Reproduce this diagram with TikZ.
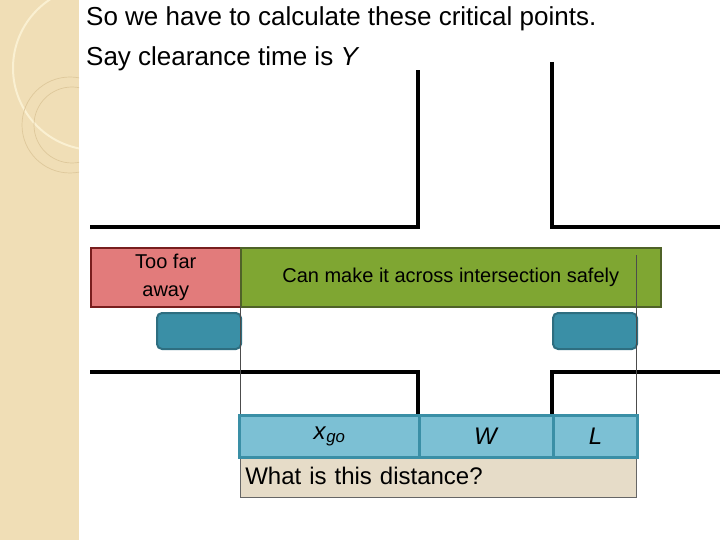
\documentclass[tikz,border=0pt]{standalone}
\usepackage{fontspec}
\setmainfont{Liberation Sans}
\definecolor{strip}{RGB}{240,222,182}
\definecolor{arcA}{RGB}{250,240,210}
\definecolor{arcB}{RGB}{222,200,155}
\definecolor{redf}{RGB}{226,123,123}
\definecolor{redd}{RGB}{120,30,30}
\definecolor{greenf}{RGB}{127,166,50}
\definecolor{greend}{RGB}{79,98,40}
\definecolor{carf}{RGB}{58,143,166}
\definecolor{card}{RGB}{46,110,128}
\definecolor{barf}{RGB}{124,192,212}
\definecolor{beige}{RGB}{230,220,200}
\begin{document}
\begin{tikzpicture}[x=1pt,y=-1pt,
  road/.style={line width=4pt},
  thin/.style={line width=0.6pt,draw=black!70},
  car/.style={draw=card,line width=2pt,fill=carf,rounded corners=5pt},
  seg/.style={draw=carf,line width=3pt,fill=barf,minimum height=42pt,anchor=north west,font=\fontsize{24}{28}\selectfont}]
\useasboundingbox (0,0) rectangle (720,540);
\fill[white] (0,0) rectangle (720,540);
\fill[strip] (0,0) rectangle (79,540);
\begin{scope}
\clip (0,0) rectangle (79,540);
\draw[arcA,line width=2pt] (95,68) circle[radius=82];
\draw[arcB,line width=0.7pt] (70,125) circle[radius=48];
\draw[arcB,line width=0.7pt] (72,125) circle[radius=38];
\end{scope}
\node[anchor=north west,font=\fontsize{26}{40}\selectfont,align=left,inner sep=0] (title) at (86,6) {So we have to calculate these critical points.\\Say clearance time is \textit{Y}};
% roads
\draw[road] (90,227) -- (418,227) -- (418,70);
\draw[road] (552,62) -- (552,227) -- (720,227);
\draw[road] (90,372) -- (418,372) -- (418,415);
\draw[road] (720,372) -- (552,372) -- (552,415);
% boxes
\node[draw=redd,line width=1.5pt,fill=redf,minimum width=150pt,minimum height=59pt,anchor=north west,align=center,font=\fontsize{20}{28}\selectfont] (far) at (90,247) {Too far\\away};
\node[draw=greend,line width=1.5pt,fill=greenf,minimum width=420pt,minimum height=59pt,anchor=north west,font=\fontsize{20}{24}\selectfont] (safe) at (240,247) {Can make it across intersection safely};
\node[car,minimum width=84pt,minimum height=36pt,anchor=north west] (car1) at (156,312) {};
\node[car,minimum width=84pt,minimum height=36pt,anchor=north west] (car2) at (552,312) {};
% beige box
\node[draw=black!60,line width=0.6pt,fill=beige,minimum width=396pt,minimum height=42pt,anchor=north west,font=\fontsize{24}{28}\selectfont,text width=386pt,align=left] (q) at (240,455) {\raisebox{-6pt}{What is this distance?}};
% thin lines
\draw[thin] (240,306) -- (240,455);
\draw[thin] (636,255) -- (636,455);
% bar
\node[seg,minimum width=180pt] (xgo) at (238,414) {\textit{x}\textsubscript{\textit{go}}};
\node[seg,minimum width=134pt] (w) at (418,414) {\textit{W}};
\node[seg,minimum width=84pt] (l) at (552,414) {\textit{L}};
\end{tikzpicture}
\end{document}
